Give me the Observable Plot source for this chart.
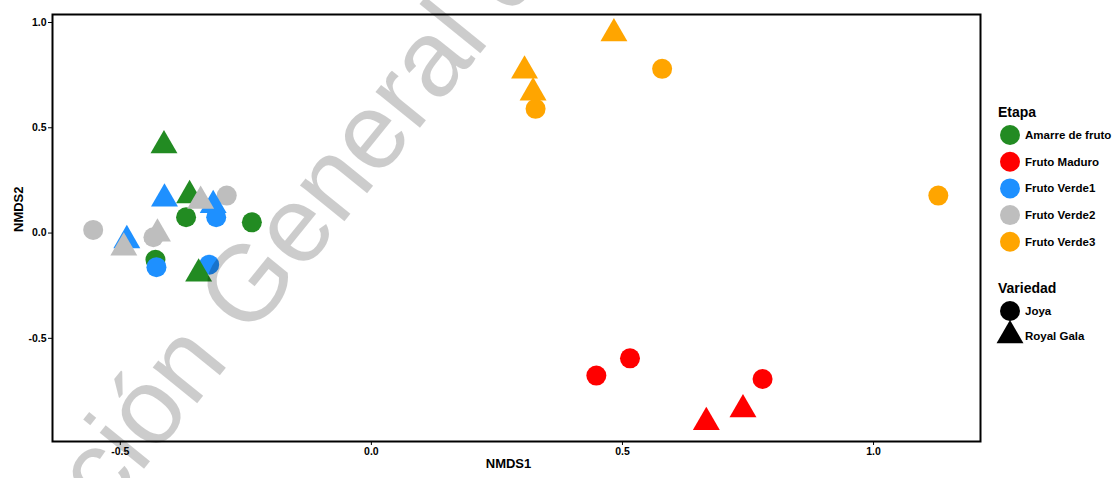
<!DOCTYPE html>
<html><head><meta charset="utf-8">
<script src="https://cdn.jsdelivr.net/npm/d3@7"></script>
<script src="https://cdn.jsdelivr.net/npm/@observablehq/plot@0.6"></script>
<style>
html,body{margin:0;padding:0;background:#fff;}
#wrap{position:relative;width:1115px;height:478px;overflow:hidden;font-family:"Liberation Sans",Arial,sans-serif;}
#wrap svg text{font-weight:bold;}
#wrap svg.wm text{font-weight:normal;}
.overlay{position:absolute;left:0;top:0;pointer-events:none;}
</style></head><body><div id="wrap"></div>
<script>
const etapaNames = ["Amarre de fruto","Fruto Maduro","Fruto Verde1","Fruto Verde2","Fruto Verde3"];
const etapaColors = ["#228B22","#FF0000","#1E90FF","#BEBEBE","#FFA500"];
const variedadNames = ["Joya","Royal Gala"];
const variedadSymbols = ["circle","triangle"];
const xTicks = [-0.5, 0, 0.5, 1];
const yTicks = [-0.5, 0, 0.5, 1];
const xLabel = "NMDS1";
const yLabel = "NMDS2";
const watermark = "Dirección General de Bibliotecas";

const etapa = [
  "Amarre de fruto","Amarre de fruto","Amarre de fruto",
  "Fruto Maduro","Fruto Maduro","Fruto Maduro",
  "Fruto Verde1","Fruto Verde1","Fruto Verde1",
  "Fruto Verde2","Fruto Verde2","Fruto Verde2",
  "Fruto Verde3","Fruto Verde3","Fruto Verde3",
  "Amarre de fruto","Amarre de fruto","Amarre de fruto",
  "Fruto Maduro","Fruto Maduro",
  "Fruto Verde1","Fruto Verde1","Fruto Verde1",
  "Fruto Verde2","Fruto Verde2","Fruto Verde2",
  "Fruto Verde3","Fruto Verde3","Fruto Verde3"
];
const variedad = [
  "Joya","Joya","Joya","Joya","Joya","Joya","Joya","Joya","Joya","Joya","Joya","Joya","Joya","Joya","Joya",
  "Royal Gala","Royal Gala","Royal Gala","Royal Gala","Royal Gala","Royal Gala","Royal Gala",
  "Royal Gala","Royal Gala","Royal Gala","Royal Gala","Royal Gala","Royal Gala","Royal Gala"
];
const nmds1 = [
  -0.369, -0.238, -0.430,
  0.448, 0.515, 0.779,
  -0.309, -0.428, -0.323,
  -0.288, -0.554, -0.434,
  0.579, 0.327, 1.129,
  -0.413, -0.362, -0.344,
  0.667, 0.740,
  -0.412, -0.315, -0.487,
  -0.340, -0.493, -0.426,
  0.483, 0.305, 0.322
];
const nmds2 = [
  0.075, 0.051, -0.127,
  -0.677, -0.595, -0.693,
  0.075, -0.162, -0.150,
  0.178, 0.015, -0.020,
  0.780, 0.590, 0.178,
  0.416, 0.179, -0.193,
  -0.899, -0.838,
  0.163, 0.132, -0.035,
  0.152, -0.070, -0.003,
  0.948, 0.771, 0.667
];

const data = nmds1.map((x, i) => ({x, y: nmds2[i], etapa: etapa[i], variedad: variedad[i]}));

const chart = Plot.plot({
  width: 1115, height: 478,
  marginLeft: 52, marginRight: 135, marginTop: 14, marginBottom: 37,
  style: {fontFamily: '"Liberation Sans", Arial, sans-serif', fontSize: "10.5px", color: "#000", background: "#fff"},
  x: {domain: [-0.635, 1.213]},
  y: {domain: [-0.990, 1.038]},
  color: {domain: etapaNames, range: etapaColors},
  symbol: {domain: variedadNames, range: variedadSymbols},
  marks: [
    Plot.axisX({ticks: xTicks, tickFormat: d => d.toFixed(1), tickSize: 4, tickPadding: 2, label: null}),
    Plot.axisY({ticks: yTicks, tickFormat: d => d.toFixed(1), tickSize: 4, tickPadding: 2, label: null}),
    Plot.dot(data, {x: "x", y: "y", fill: "etapa", symbol: "variedad", r: 10}),
    Plot.frame({stroke: "black", strokeWidth: 2}),
    Plot.text([xLabel], {frameAnchor: "bottom", dx: -8, dy: 26, text: d => d, fontSize: 13}),
    Plot.text([yLabel], {frameAnchor: "left", dx: -34, dy: 4, rotate: -90, text: d => d, fontSize: 13})
  ]
});
const wrap = document.getElementById("wrap");
wrap.appendChild(chart);

// Legend
const leg = d3.create("svg").attr("class", "overlay").attr("width", 1115).attr("height", 478)
  .style("font-family", '"Liberation Sans", Arial, sans-serif');
leg.append("text").attr("x", 998).attr("y", 112).attr("dominant-baseline", "central")
  .attr("font-size", 14).text("Etapa");
etapaNames.forEach((n, i) => {
  const cy = 135 + 26.7 * i;
  leg.append("circle").attr("cx", 1010).attr("cy", cy).attr("r", 10).attr("fill", etapaColors[i]);
  leg.append("text").attr("x", 1025).attr("y", cy).attr("dominant-baseline", "central")
    .attr("font-size", 11.5).text(n);
});
leg.append("text").attr("x", 998).attr("y", 288).attr("dominant-baseline", "central")
  .attr("font-size", 14).text("Variedad");
const symMap = {circle: d3.symbolCircle, triangle: d3.symbolTriangle};
variedadNames.forEach((n, i) => {
  const cy = 311 + 24.5 * i;
  leg.append("path").attr("transform", `translate(1010,${cy})`)
    .attr("d", d3.symbol(symMap[variedadSymbols[i]], 100 * Math.PI)()).attr("fill", "#000");
  leg.append("text").attr("x", 1025).attr("y", cy).attr("dominant-baseline", "central")
    .attr("font-size", 11.5).text(n);
});
wrap.appendChild(leg.node());

// Watermark
const wm = d3.create("svg").attr("class", "overlay wm").attr("width", 1115).attr("height", 478);
wm.append("text").attr("transform", "translate(249,339) rotate(-51)")
  .attr("x", -480).attr("font-size", 108).attr("fill", "#000").attr("fill-opacity", 0.2)
  .style("font-family", '"Liberation Sans", Arial, sans-serif').style("font-weight", "normal")
  .text(watermark);
wrap.appendChild(wm.node());
</script></body></html>
